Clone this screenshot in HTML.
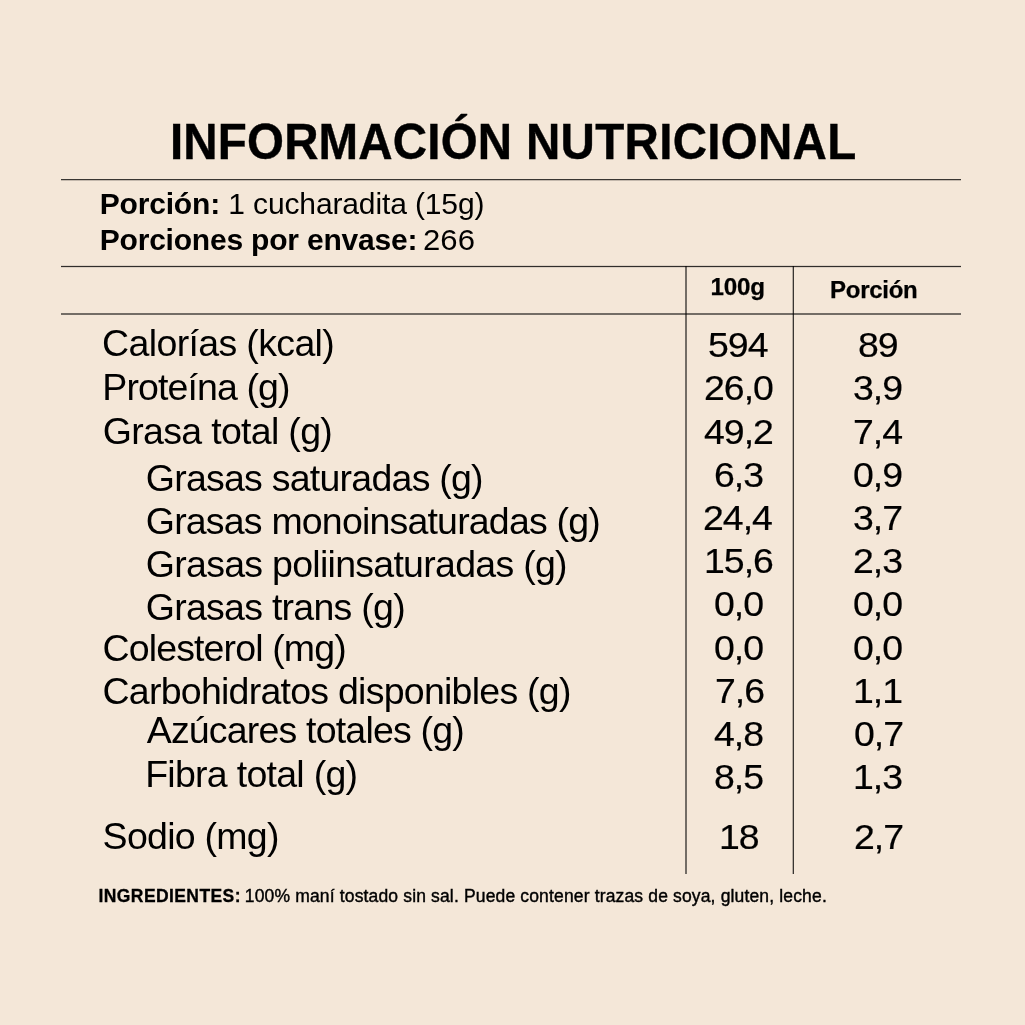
<!DOCTYPE html>
<html lang="es"><head><meta charset="utf-8"><title>Información Nutricional</title>
<style>
html,body{margin:0;padding:0}
body{width:1025px;height:1025px;background:#f4e7d8;position:relative;overflow:hidden;font-family:"Liberation Sans",Arial,Helvetica,sans-serif;color:#000}
.t{position:absolute;white-space:nowrap;line-height:1;margin:0;font-weight:400;transform-origin:0 0}
.title{font-size:50px;font-weight:700;transform:scaleX(.95);-webkit-text-stroke:.4px #000}
.pb{font-size:30px;font-weight:700}
.pr{font-size:30px}
.pn{transform:scaleX(1.035)}
.h{font-weight:700;-webkit-text-stroke:.25px #000}
.h1{font-size:24.2px}
.h2{font-size:24px}
.ib{font-size:17.5px;font-weight:700;-webkit-text-stroke:.3px #000}
.ir{font-size:17.5px;-webkit-text-stroke:.4px #000}
.lab{font-size:37.5px}
.num{font-size:35.6px;transform:scaleX(1.053);-webkit-text-stroke:.2px #000;letter-spacing:-.95px}
.hl{position:absolute;height:1px;left:61px;width:900px}
.vl{position:absolute;width:1px;top:266px;height:608px}
</style></head><body>
<div class="hl" style="top:179px;background:rgba(0,0,0,.77)"></div>
<div class="hl" style="top:180px;background:rgba(0,0,0,.2)"></div>
<div class="hl" style="top:265px;background:rgba(0,0,0,.1)"></div>
<div class="hl" style="top:266px;background:rgba(0,0,0,.8)"></div>
<div class="hl" style="top:267px;background:rgba(0,0,0,.1)"></div>
<div class="hl" style="top:313px;background:rgba(0,0,0,.53)"></div>
<div class="hl" style="top:314px;background:rgba(0,0,0,.53)"></div>
<div class="vl" style="left:685px;background:rgba(0,0,0,.53)"></div>
<div class="vl" style="left:686px;background:rgba(0,0,0,.53)"></div>
<div class="vl" style="left:792px;background:rgba(0,0,0,.25)"></div>
<div class="vl" style="left:793px;background:rgba(0,0,0,.77)"></div>
<div id="title" class="t title" style="left:169.75px;top:117px;letter-spacing:0.175px">INFORMACIÓN</div>
<div id="title2" class="t title" style="left:525.65px;top:117px;letter-spacing:0.320px">NUTRICIONAL</div>
<div id="p1b" class="t pb" style="left:99.74px;top:189px;letter-spacing:-0.178px">Porción:</div>
<div id="p1r" class="t pr" style="left:228.28px;top:189px;letter-spacing:-0.129px">1 cucharadita (15g)</div>
<div id="p2b" class="t pb" style="left:99.74px;top:225px;letter-spacing:-0.204px">Porciones por envase:</div>
<div id="p2r" class="t pr pn" style="left:423.20px;top:225px;letter-spacing:0.056px">266</div>
<div id="h100" class="t h h1" style="left:710.38px;top:275px;letter-spacing:-0.160px">100g</div>
<div id="hpor" class="t h h2" style="left:830.11px;top:278px;letter-spacing:-0.279px">Porción</div>
<div id="ingb" class="t ib" style="left:98.55px;top:888px;letter-spacing:0.402px">INGREDIENTES:</div>
<div id="ingr" class="t ir" style="left:244.84px;top:888px;letter-spacing:0.153px">100% maní tostado sin sal. Puede contener trazas de soya, gluten, leche.</div>
<div id="l0" class="t lab" style="left:102.10px;top:325px;letter-spacing:-0.644px">Calorías (kcal)</div>
<div id="a0" class="t num" style="left:708.25px;top:328px">594</div>
<div id="b0" class="t num" style="left:857.55px;top:328px">89</div>
<div id="l1" class="t lab" style="left:102.37px;top:369px;letter-spacing:-0.898px">Proteína (g)</div>
<div id="a1" class="t num" style="left:704.00px;top:371px">26,0</div>
<div id="b1" class="t num" style="left:852.79px;top:371px">3,9</div>
<div id="l2" class="t lab" style="left:102.81px;top:413px;letter-spacing:-0.691px">Grasa total (g)</div>
<div id="a2" class="t num" style="left:704.32px;top:415px">49,2</div>
<div id="b2" class="t num" style="left:853.07px;top:415px">7,4</div>
<div id="l3" class="t lab" style="left:145.81px;top:460px;letter-spacing:-0.759px">Grasas saturadas (g)</div>
<div id="a3" class="t num" style="left:714.11px;top:458px">6,3</div>
<div id="b3" class="t num" style="left:853.40px;top:458px">0,9</div>
<div id="l4" class="t lab" style="left:145.81px;top:503px;letter-spacing:-0.812px">Grasas monoinsaturadas (g)</div>
<div id="a4" class="t num" style="left:703.39px;top:501px">24,4</div>
<div id="b4" class="t num" style="left:852.99px;top:501px">3,7</div>
<div id="l5" class="t lab" style="left:145.81px;top:546px;letter-spacing:-0.722px">Grasas poliinsaturadas (g)</div>
<div id="a5" class="t num" style="left:704.39px;top:544px">15,6</div>
<div id="b5" class="t num" style="left:853.20px;top:544px">2,3</div>
<div id="l6" class="t lab" style="left:145.81px;top:589px;letter-spacing:-0.736px">Grasas trans (g)</div>
<div id="a6" class="t num" style="left:714.00px;top:587px">0,0</div>
<div id="b6" class="t num" style="left:852.70px;top:587px">0,0</div>
<div id="l7" class="t lab" style="left:102.50px;top:630px;letter-spacing:-0.871px">Colesterol (mg)</div>
<div id="a7" class="t num" style="left:714.00px;top:631px">0,0</div>
<div id="b7" class="t num" style="left:852.70px;top:631px">0,0</div>
<div id="l8" class="t lab" style="left:102.50px;top:673px;letter-spacing:-0.748px">Carbohidratos disponibles (g)</div>
<div id="a8" class="t num" style="left:715.00px;top:674px">7,6</div>
<div id="b8" class="t num" style="left:852.50px;top:674px">1,1</div>
<div id="l9" class="t lab" style="left:146.70px;top:712px;letter-spacing:-0.813px">Azúcares totales (g)</div>
<div id="a9" class="t num" style="left:714.22px;top:717px">4,8</div>
<div id="b9" class="t num" style="left:853.60px;top:717px">0,7</div>
<div id="l10" class="t lab" style="left:145.15px;top:756px;letter-spacing:-0.718px">Fibra total (g)</div>
<div id="a10" class="t num" style="left:713.55px;top:760px">8,5</div>
<div id="b10" class="t num" style="left:852.92px;top:760px">1,3</div>
<div id="l11" class="t lab" style="left:102.61px;top:818px;letter-spacing:-0.724px">Sodio (mg)</div>
<div id="a11" class="t num" style="left:719.48px;top:820px">18</div>
<div id="b11" class="t num" style="left:853.50px;top:820px">2,7</div>
</body></html>
